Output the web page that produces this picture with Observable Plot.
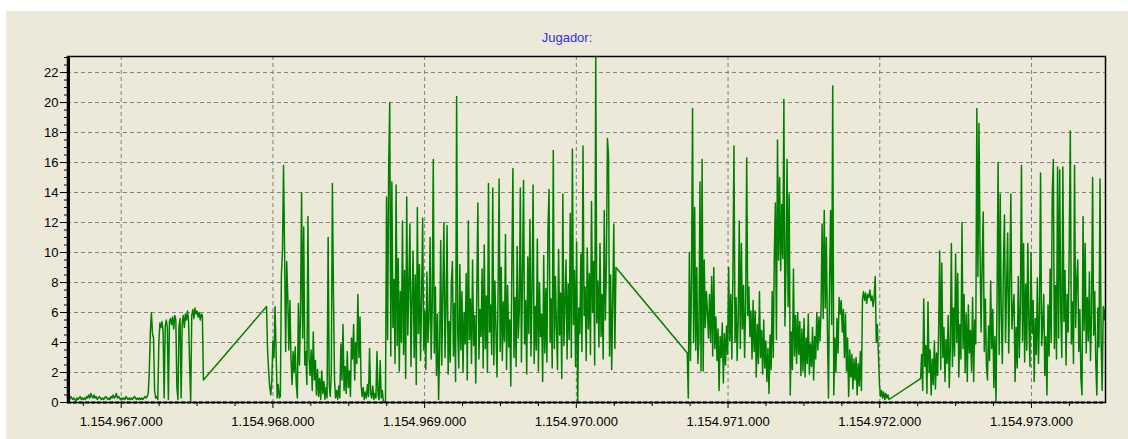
<!DOCTYPE html>
<html>
<head>
<meta charset="utf-8">
<script src="https://cdn.jsdelivr.net/npm/d3@7"></script>
<script src="https://cdn.jsdelivr.net/npm/@observablehq/plot@0.6"></script>
<style>
  html, body { margin: 0; padding: 0; background: #ffffff; width: 1128px; height: 439px; overflow: hidden; }
  #panel { position: absolute; left: 6px; top: 11px; width: 1122px; height: 428px; background: #ECE9D8; }
  #title { position: absolute; left: 0; top: 19px; width: 100%; text-align: center; color: #3030f0;
           font-family: "Liberation Sans", Arial, sans-serif; font-size: 13px; line-height: 15px; }
  #chart { position: absolute; left: 0; top: 35px; }
</style>
</head>
<body>
<div id="panel">
  <div id="title">Jugador:</div>
  <div id="chart"></div>
</div>
<script>
// ---- data (timestamps in seconds, value of "Jugador") ----
const titleText = "Jugador:";
const xDomain = [1154966646, 1154973488];
const yDomain = [0, 23.07];
const xTicks = [1154967000, 1154968000, 1154969000, 1154970000, 1154971000, 1154972000, 1154973000];
const yTicks = [0, 2, 4, 6, 8, 10, 12, 14, 16, 18, 20, 22];
const sampleSeconds = 7;
const segmentStarts = [1154966646, 1154967958, 1154970731, 1154972269];

const seg1Values = [
  0.3,0.2,0.2,0.4,0.3,0.2,0.3,0.2,0.1,0.3,
  0.2,0.3,0.4,0.2,0.3,0.2,0.3,0.2,0.4,0.3,
  0.5,0.3,0.6,0.4,0.3,0.5,0.3,0.4,0.2,0.3,
  0.4,0.3,0.2,0.3,0.2,0.3,0.4,0.3,0.2,0.3,
  0.2,0.4,0.3,0.5,0.3,0.4,0.6,0.3,0.4,0.3,
  0.2,0.3,0.2,0.3,0.2,0.4,0.3,0.2,0.3,0.2,
  0.3,0.2,0.3,0.4,0.3,0.2,0.3,0.2,0.3,0.2,
  0.3,0.2,0.3,0.4,0.3,0.4,0.6,
  2.0,4.7,6.0,4.6,4.3,0.8,0.3,0.4,0.2,4.0,
  5.3,5.0,5.4,4.7,0.3,5.1,5.5,5.0,0.2,5.4,
  5.6,5.2,5.7,4.9,5.8,5.5,1.0,0.2,5.1,5.6,
  0.3,5.3,5.8,5.0,5.9,5.5,6.1,5.4,2.5,0.1,
  5.8,6.2,5.6,6.3,5.9,6.1,5.7,6.0,5.5,5.9,
  5.8,1.5
];

const seg2Values = [
  6.4,3.4,2.1,1.0,0.5,1.5,4.1,3.0,6.4,3.4,
  0.3,1.2,0.3,0.4,8.5,10.1,15.8,9.9,3.4,9.4,
  7.0,3.5,6.8,3.0,1.2,3.4,2.0,3.7,1.2,0.3,
  6.6,2.5,6.1,14.0,4.3,11.7,2.5,3.4,1.2,12.4,
  3.0,1.8,3.5,0.8,4.7,1.5,2.8,0.5,2.2,0.4,
  1.6,0.2,2.1,0.6,1.4,0.2,1.0,0.3,11.0,1.2,
  0.4,2.0,14.6,7.4,1.5,0.3,0.8,0.2,1.1,0.3,
  3.9,1.5,5.2,0.8,2.4,0.6,3.4,1.0,2.1,0.4,
  4.3,2.9,5.2,1.5,4.0,2.6,7.2,3.0,5.7,1.2,
  0.4,1.0,0.2,0.7,0.3,1.2,0.4,3.6,0.6,0.3,
  1.1,0.2,0.6,0.3,3.4,0.5,0.2,2.8,0.3,0.8,
  0.1,0.0,0.1,
  13.7,4.2,15.7,20.0,3.1,14.7,5.0,8.2,2.6,14.5,
  3.8,9.6,2.1,7.4,4.0,12.1,3.2,8.8,1.6,13.7,
  4.5,7.9,11.9,2.4,6.8,10.1,3.0,8.5,1.2,13.0,
  4.6,9.2,2.8,7.0,12.3,3.5,6.1,2.2,8.7,4.0,
  5.6,11.0,2.9,6.4,16.2,3.3,7.7,1.8,5.9,0.2,
  3.6,10.8,2.5,7.2,12.0,3.0,6.3,11.8,1.9,5.4,
  2.7,8.0,9.4,3.1,6.6,1.4,20.4,4.8,2.3,9.2,
  3.5,7.4,2.0,6.0,3.9,8.6,1.5,12.1,4.2,6.9,
  2.6,9.5,3.8,5.8,1.3,7.6,13.3,2.9,6.2,4.4,
  8.9,2.3,10.5,3.6,7.1,2.0,14.6,4.7,6.5,3.2,
  14.3,2.5,8.1,4.9,1.7,7.3,14.9,3.4,9.0,2.8,
  6.7,4.1,11.2,2.2,7.8,3.7,5.5,1.1,9.3,15.6,
  3.0,7.0,2.4,10.4,4.3,6.1,14.3,2.7,8.3,14.8,
  3.9,6.8,1.9,9.7,4.6,12.2,3.1,7.5,14.5,2.6,
  6.4,3.5,10.9,2.1,8.0,4.4,5.9,1.4,9.8,3.3,
  7.6,2.7,11.5,14.2,4.0,6.9,2.3,16.8,3.6,8.4,
  5.0,2.2,10.2,4.5,7.3,1.6,13.9,3.8,6.6,9.5,
  2.9,7.9,4.2,12.6,3.0,16.9,5.2,8.8,2.4,10.7,
  0.0,6.3,4.6,9.9,3.4,17.1,5.8,7.7,2.8,10.3,
  4.9,8.6,3.2,13.4,6.0,9.4,2.5,23.07,5.3,8.1,
  3.7,10.6,4.4,7.2,2.9,12.8,5.5,9.0,17.6,16.5,
  3.1,8.5,2.2,6.8,11.9,3.6,9.0
];

const seg3Values = [
  3.3,0.3,10.0,2.8,8.1,19.6,4.0,13.0,3.5,9.0,
  2.6,4.2,14.7,2.1,16.2,2.1,9.5,5.0,7.4,6.1,
  4.3,7.2,4.0,8.4,3.1,9.0,3.6,5.7,2.8,4.9,
  0.8,4.4,3.0,5.3,1.3,4.6,2.5,5.1,3.2,9.0,
  4.1,7.2,2.9,8.6,17.1,4.0,7.0,2.8,5.6,12.1,
  3.6,10.6,4.9,7.8,3.0,6.5,16.3,5.8,7.7,4.4,
  6.1,2.9,6.8,3.4,6.1,1.7,5.2,2.6,7.4,3.0,
  4.8,1.9,5.5,2.3,4.1,1.4,3.6,0.6,4.5,2.2,
  7.4,3.0,9.9,13.3,4.2,17.5,9.5,15.0,8.8,13.2,
  9.6,20.2,5.1,9.0,16.2,6.4,13.9,0.5,4.7,2.2,
  8.9,3.1,5.8,2.6,6.0,3.2,5.4,1.8,4.9,2.1,
  5.6,1.7,4.3,2.6,5.9,1.9,3.9,2.4,5.0,1.5,
  4.4,2.9,6.0,3.5,5.7,4.1,6.2,11.9,5.6,12.8,
  6.3,11.0,4.8,0.3,8.0,12.8,5.2,21.1,0.5,4.3,
  2.0,5.6,3.3,7.0,5.9,6.8,4.7,6.2,3.0,5.9,
  2.1,4.3,0.4,3.5,1.7,3.2,0.9,2.9,1.5,3.0,
  0.5,2.6,1.1,3.4,0.8,6.9,7.4,6.8,7.3,6.6,
  7.2,7.0,7.5,6.8,7.1,6.4,7.0,8.4,4.0,5.2,
  3.3,1.2,0.4,0.8,0.3,0.7,0.2,0.6,0.3,0.5,
  0.2
];

const seg4Values = [
  1.6,3.2,0.8,6.9,2.4,3.8,0.6,6.7,2.0,3.5,
  0.5,2.9,1.2,4.1,0.9,3.3,1.8,4.6,10.1,2.2,
  9.3,3.0,5.0,1.4,4.2,2.6,5.8,1.0,3.7,10.6,
  2.4,6.3,3.1,9.9,4.0,8.6,1.7,5.2,2.9,12.0,
  3.6,7.2,2.0,5.9,1.4,6.5,3.3,4.8,2.1,7.0,
  1.4,5.5,3.9,19.6,8.4,18.6,10.0,4.7,9.3,12.7,
  3.4,6.9,2.5,1.5,5.1,2.8,8.1,3.6,6.2,1.0,
  4.4,0.0,6.7,16.0,3.2,13.9,5.8,2.6,9.1,12.5,
  4.0,7.6,11.3,3.3,8.0,13.9,4.9,6.3,7.2,1.4,
  5.0,2.3,8.4,3.0,6.6,15.8,4.1,10.6,2.7,7.9,
  3.5,10.6,5.3,2.4,10.0,4.6,6.8,1.4,5.6,3.2,
  8.3,2.6,6.0,15.3,3.8,5.1,7.2,1.8,4.4,0.5,
  6.5,3.1,8.9,4.0,13.9,16.2,3.6,7.8,2.9,15.7,
  4.3,15.5,6.1,3.0,15.7,5.4,8.8,2.5,7.2,4.7,
  10.4,18.1,3.9,6.7,2.6,15.8,5.0,8.1,9.5,3.4,
  6.2,1.6,0.5,12.4,4.8,10.6,3.3,7.0,4.1,8.7,
  2.8,5.9,15.0,4.5,7.4,2.6,0.5,6.3,3.7,14.9,
  4.2,0.8,6.4,5.5,6.3
];

// ---- build table ----
const segments = [seg1Values, seg2Values, seg3Values, seg4Values];
const data = [];
segments.forEach((vals, s) => vals.forEach((v, i) => data.push({t: segmentStarts[s] + i * sampleSeconds, v})));

const xMinorTicks = d3.range(1154966750, xDomain[1], 250).filter(d => !xTicks.includes(d));
const yMinorTicks = d3.range(0.5, yDomain[1], 0.5).filter(d => !yTicks.includes(d));

const locale = d3.formatLocale({decimal: ",", thousands: ".", grouping: [3], currency: ["", " €"]});
const fmt = locale.format(",d");

document.getElementById("title").textContent = titleText;

const gridStyle = {stroke: "#808080", strokeOpacity: 1, strokeWidth: 1, strokeDasharray: "4,3"};

const chart = Plot.plot({
  width: 1122,
  height: 393,
  marginLeft: 61,
  marginRight: 23,
  marginTop: 10,
  marginBottom: 37,
  style: {background: "transparent", fontFamily: "'Liberation Sans', Arial, sans-serif", fontSize: "13px", color: "#000"},
  x: {domain: xDomain, label: null},
  y: {domain: yDomain, label: null},
  marks: [
    Plot.gridY(yTicks, gridStyle),
    Plot.gridX(xTicks, gridStyle),
    Plot.line(data, {x: "t", y: "v", stroke: "#008000", strokeWidth: 1.5}),
    Plot.frame({stroke: "#000", strokeWidth: 1.5}),
    Plot.ruleY([0], {stroke: "#000", strokeWidth: 2, strokeDasharray: "4,2"}),
    Plot.ruleX([xDomain[0]], {stroke: "#000", strokeWidth: 3, dx: 1}),
    Plot.axisX(xMinorTicks, {tickSize: 4, tickFormat: () => "", stroke: "#000", label: null}),
    Plot.axisX(xTicks, {tickSize: 6, tickPadding: 8, tickFormat: fmt, stroke: "#000", fill: "#000", label: null}),
    Plot.axisY(yMinorTicks, {tickSize: 3, tickFormat: () => "", stroke: "#000", label: null}),
    Plot.axisY(yTicks, {tickSize: 7, tickPadding: 2, stroke: "#000", fill: "#000", label: null})
  ]
});
document.getElementById("chart").appendChild(chart);
</script>
</body>
</html>
